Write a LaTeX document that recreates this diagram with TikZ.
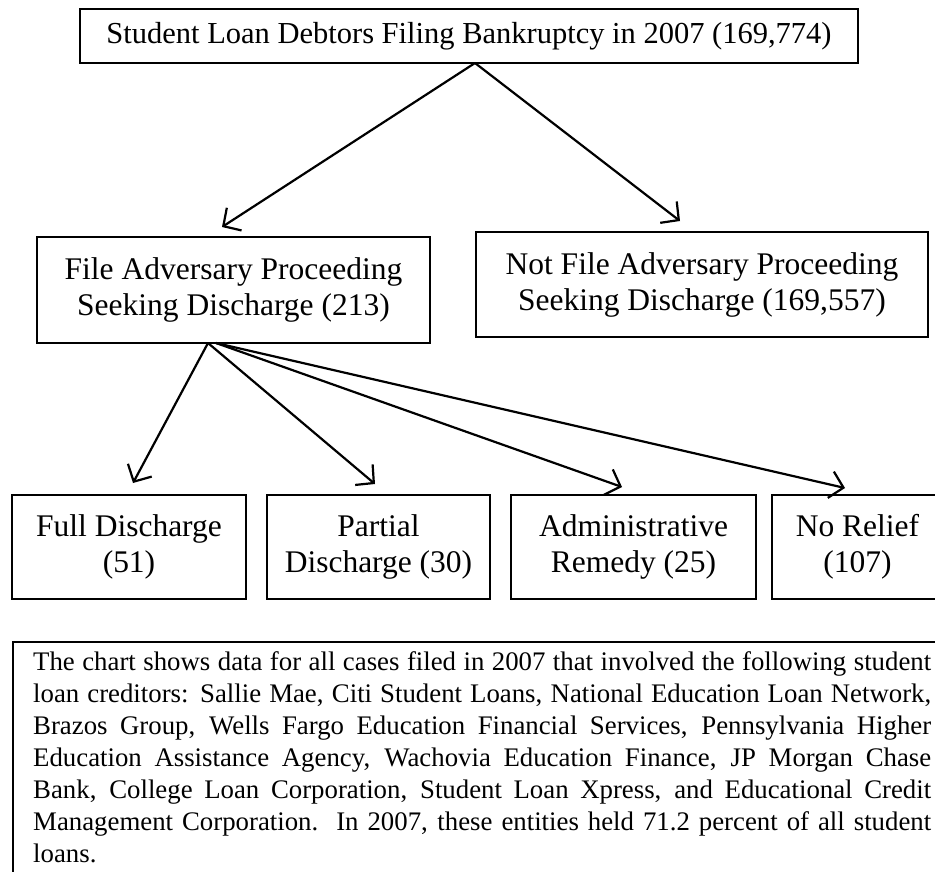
\documentclass[tikz,border=0pt]{standalone}
\usepackage{fontspec}
\setmainfont{Liberation Serif}
\usetikzlibrary{arrows.meta}
\begin{document}
\begin{tikzpicture}[x=1pt,y=-1pt,
  box/.style={draw,line width=1.6pt,inner sep=0pt,align=center,
    font=\fontsize{31.5}{36}\selectfont},
  arr/.style={line width=2.2pt,-{Straight Barb[length=13pt,width=27pt,line width=2.2pt]}}]
\useasboundingbox (0,0) rectangle (935,871);
\begin{scope}
\clip (0,0) rectangle (935,871);
\node[box,minimum width=778pt,minimum height=54pt,font=\fontsize{30.5}{36}\selectfont] (top) at (469,36)
  {Student Loan Debtors Filing Bankruptcy in 2007 (169,774)};
\node[box,minimum width=393pt,minimum height=106pt] (fad) at (233.5,290)
  {File Adversary Proceeding\\Seeking Discharge (213)};
\node[box,minimum width=452pt,minimum height=105pt] (nfad) at (702,284.5)
  {Not File Adversary Proceeding\\Seeking Discharge (169,557)};
\node[box,minimum width=234pt,minimum height=104pt] (full) at (129,547)
  {Full Discharge\\(51)};
\node[box,minimum width=223pt,minimum height=104pt] (part) at (378.5,547)
  {Partial\\Discharge (30)};
\node[box,minimum width=245pt,minimum height=104pt] (adm) at (633.5,547)
  {Administrative\\Remedy (25)};
\node[box,minimum width=171pt,minimum height=104pt] (nor) at (857.5,547)
  {No Relief\\(107)};
\node[draw,line width=1.6pt,minimum width=940pt,minimum height=260pt,anchor=north west] (notebox) at (12,641) {};
\node[anchor=north west,inner sep=0pt,text width=898pt,align=justify,
  font=\fontsize{26.8}{32}\selectfont] (note) at (33,651)
  {The chart shows data for all cases filed in 2007 that involved the following student\linebreak
   loan creditors: Sallie Mae, Citi Student Loans, National Education Loan Network,\linebreak
   Brazos Group, Wells Fargo Education Financial Services, Pennsylvania Higher\linebreak
   Education Assistance Agency, Wachovia Education Finance, JP Morgan Chase\linebreak
   Bank, College Loan Corporation, Student Loan Xpress, and Educational Credit\linebreak
   Management Corporation.\ \ In 2007, these entities held 71.2 percent of all student\linebreak
   loans.};
\coordinate (s0) at (475,63);
\coordinate (tL) at (222,227);
\coordinate (tR) at (680,221);
\coordinate (s1) at (208,343);
\coordinate (s2) at (216,343);
\coordinate (b1) at (133,483);
\coordinate (b2) at (375,484);
\coordinate (b3) at (622,487);
\coordinate (b4) at (845,488);
\draw[arr] (s0) -- (tL);
\draw[arr] (s0) -- (tR);
\draw[arr] (s1) -- (b1);
\draw[arr] (s1) -- (b2);
\draw[arr] (s2) -- (b3);
\draw[arr] (s2) -- (b4);
\end{scope}
\end{tikzpicture}
\end{document}
